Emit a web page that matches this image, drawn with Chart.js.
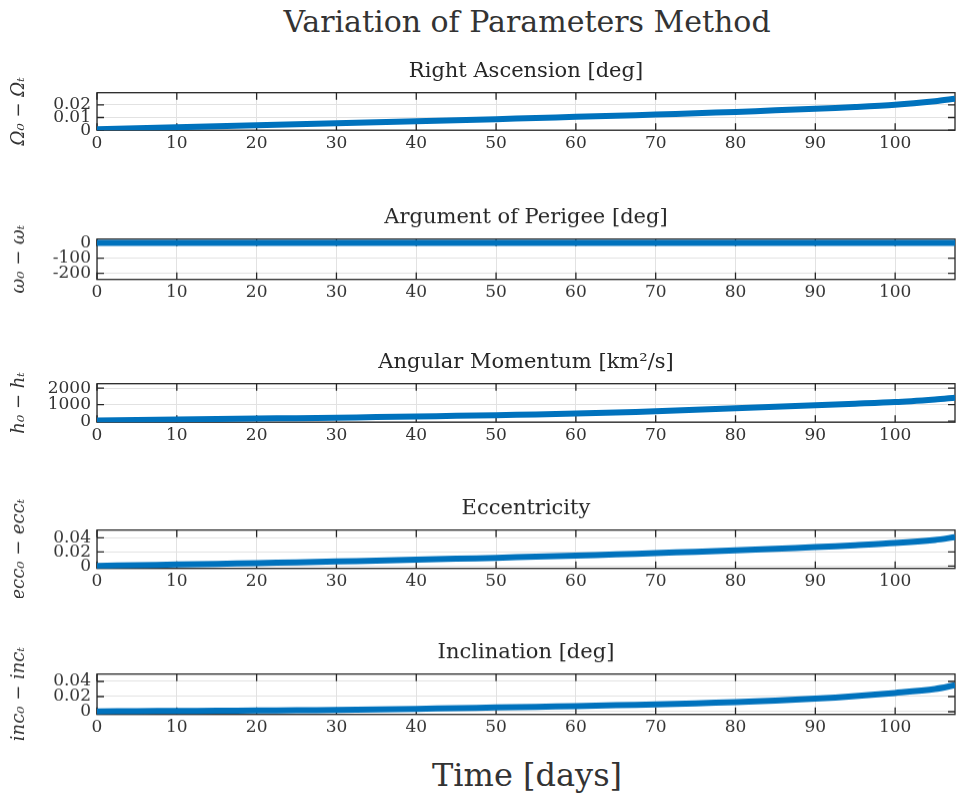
<!DOCTYPE html>
<html>
<head>
<meta charset="utf-8">
<title>Variation of Parameters Method</title>
<script src="https://cdn.jsdelivr.net/npm/chart.js@4.4.1/dist/chart.umd.min.js"></script>
<style>
  body { margin: 0; background: #fff; width: 958px; height: 801px; position: relative; overflow: hidden; font-family: 'DejaVu Serif', serif; }
  .panel { position: absolute; left: 0; width: 958px; }
  #mainTitle { position: absolute; top: 4px; left: 97px; width: 860px; text-align: center; font-size: 30px; line-height: 36px; color: #333; }
  #xTitle { position: absolute; top: 756px; left: 97px; width: 860px; text-align: center; font-size: 32px; line-height: 38px; color: #333; }
</style>
</head>
<body>
<div id="mainTitle">Variation of Parameters Method</div>
<div class="panel" id="p0"><canvas id="c0"></canvas></div>
<div class="panel" id="p1"><canvas id="c1"></canvas></div>
<div class="panel" id="p2"><canvas id="c2"></canvas></div>
<div class="panel" id="p3"><canvas id="c3"></canvas></div>
<div class="panel" id="p4"><canvas id="c4"></canvas></div>
<div id="xTitle">Time [days]</div>
<script>
// time samples [days]
const days = [0, 5, 10, 15, 20, 25, 30, 35, 40, 45, 50, 55, 60, 65, 70, 75, 80, 85, 90, 95, 100, 105, 107.5];

// differences
const raanDiff = [0.0008, 0.0015, 0.0023, 0.0031, 0.0039, 0.0047, 0.0055, 0.0063, 0.0071, 0.0079, 0.0087, 0.0096,
                  0.0105, 0.0114, 0.0123, 0.0133, 0.0144, 0.0156, 0.0168, 0.0182, 0.0200, 0.0228, 0.0248];
const argpDiff = [0, 0, 0, 0, 0, 0, 0, 0, 0, 0, 0, 0, 0, 0, 0, 0, 0, 0, 0, 0, 0, 0, 0];
const hDiff = [50, 80, 110, 135, 160, 185, 215, 250, 290, 325, 365, 410,
               460, 530, 600, 690, 790, 880, 970, 1060, 1160, 1320, 1420];
const eccDiff = [0.0003, 0.0012, 0.0022, 0.0032, 0.0042, 0.0053, 0.0065, 0.0078, 0.0091, 0.0104, 0.0118, 0.0133,
                 0.0149, 0.0166, 0.0184, 0.0203, 0.0223, 0.0245, 0.0269, 0.0296, 0.0326, 0.0370, 0.0410];
const incDiff = [0.0004, 0.0007, 0.0010, 0.0013, 0.0016, 0.0019, 0.0024, 0.0030, 0.0038, 0.0046, 0.0055, 0.0064,
                 0.0074, 0.0085, 0.0097, 0.0111, 0.0128, 0.0148, 0.0173, 0.0205, 0.0248, 0.0300, 0.0350];

// tick labels
const xTicks = [0, 10, 20, 30, 40, 50, 60, 70, 80, 90, 100];
const raanTicks = [0, 0.01, 0.02];
const argpTicks = [-200, -100, 0];
const hTicks = [0, 1000, 2000];
const eccTicks = [0, 0.02, 0.04];
const incTicks = [0, 0.02, 0.04];

const titles = ['Right Ascension [deg]', 'Argument of Perigee [deg]', 'Angular Momentum [km²/s]', 'Eccentricity', 'Inclination [deg]'];
const yTitles = ['Ω₀ − Ωₜ', 'ω₀ − ωₜ', 'h₀ − hₜ', 'ecc₀ − eccₜ', 'inc₀ − incₜ'];

// layout of each subplot: plot area top/bottom and y limits
const panels = [
  { top: 93,    bottom: 130.5, ymin: 0,       ymax: 0.0295, values: raanDiff, ticks: raanTicks },
  { top: 239,   bottom: 279,   ymin: -240,    ymax: 25,     values: argpDiff, ticks: argpTicks },
  { top: 383.5, bottom: 422,   ymin: -60,     ymax: 2273,   values: hDiff,    ticks: hTicks },
  { top: 530,   bottom: 568,   ymin: -0.0033, ymax: 0.051,  values: eccDiff,  ticks: eccTicks },
  { top: 674,   bottom: 714,   ymin: -0.0036, ymax: 0.0497, values: incDiff,  ticks: incTicks }
];

const textColor = '#333';
const axisColor = '#262626';
const gridColor = '#e2e2e2';
const lineColor = '#0072BD';
const titleSize = 21;
const titlePad = 8.5;
const titleH = titleSize * 1.2 + titlePad;
const xAxisH = 30;
const tickLen = 7;

// MATLAB-like box with inward ticks, drawn under the data
const boxTicks = {
  id: 'boxTicks',
  beforeDatasetsDraw(chart) {
    const { ctx, chartArea: a, scales: { x, y } } = chart;
    ctx.save();
    ctx.strokeStyle = axisColor;
    ctx.lineWidth = 1.3;
    ctx.strokeRect(a.left, a.top, a.right - a.left, a.bottom - a.top);
    ctx.beginPath();
    x.ticks.forEach(t => {
      const px = x.getPixelForValue(t.value);
      ctx.moveTo(px, a.top); ctx.lineTo(px, a.top + tickLen);
      ctx.moveTo(px, a.bottom); ctx.lineTo(px, a.bottom - tickLen);
    });
    y.ticks.forEach(t => {
      const py = y.getPixelForValue(t.value);
      ctx.moveTo(a.left, py); ctx.lineTo(a.left + tickLen, py);
      ctx.moveTo(a.right, py); ctx.lineTo(a.right - tickLen, py);
    });
    ctx.stroke();
    ctx.restore();
  }
};

panels.forEach((p, i) => {
  const box = document.getElementById('p' + i);
  box.style.top = (p.top - titleH) + 'px';
  box.style.height = (titleH + (p.bottom - p.top) + xAxisH) + 'px';

  new Chart(document.getElementById('c' + i), {
    type: 'scatter',
    data: {
      datasets: [{
        data: days.map((d, k) => ({ x: d, y: p.values[k] })),
        showLine: true,
        borderColor: lineColor,
        borderWidth: 6,
        pointRadius: 0,
        tension: 0.3
      }]
    },
    options: {
      responsive: true,
      maintainAspectRatio: false,
      animation: false,
      layout: { padding: { left: 0, right: 1, top: 0, bottom: 0 } },
      plugins: {
        legend: { display: false },
        tooltip: { enabled: false },
        title: {
          display: true,
          fullSize: false,   // centre over the plot area like MATLAB
          text: titles[i],
          color: axisColor,
          font: { family: 'DejaVu Serif', size: titleSize, weight: 'normal' },
          padding: { top: 0, bottom: titlePad }
        }
      },
      scales: {
        x: {
          type: 'linear',
          min: 0,
          max: 107.5,
          afterBuildTicks: s => { s.ticks = xTicks.map(v => ({ value: v })); },
          afterFit: s => { s.height = xAxisH; },
          ticks: { color: textColor, font: { family: 'DejaVu Serif', size: 17 }, padding: 3, maxRotation: 0, autoSkip: false },
          grid: { color: gridColor, drawTicks: false },
          border: { display: false }
        },
        y: {
          min: p.ymin,
          max: p.ymax,
          afterBuildTicks: s => { s.ticks = p.ticks.map(v => ({ value: v })); },
          afterFit: s => { s.width = 97; },
          ticks: { color: textColor, font: { family: 'DejaVu Serif', size: 17 }, padding: 6, autoSkip: false,
                   callback: v => String(v) },
          grid: { color: gridColor, drawTicks: false },
          border: { display: false },
          title: {
            display: true,
            text: yTitles[i],
            color: textColor,
            font: { family: 'DejaVu Serif', size: 18, style: 'italic' },
            padding: { top: 9, bottom: 0 }
          }
        }
      }
    },
    plugins: [boxTicks]
  });
});
</script>
</body>
</html>
